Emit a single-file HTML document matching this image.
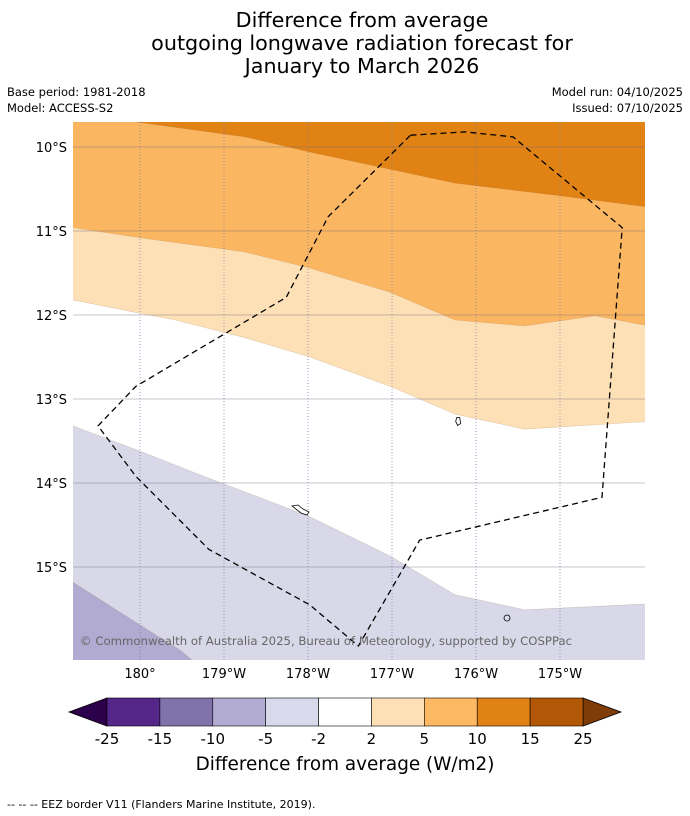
<!DOCTYPE html>
<html><head><meta charset="utf-8">
<style>
body{margin:0;background:#fff;font-family:"Liberation Sans","DejaVu Sans",sans-serif;}
#wrap{position:relative;width:690px;height:816px;overflow:hidden;}
svg text{font-family:"DejaVu Sans","Liberation Sans",sans-serif;}
</style></head>
<body>
<div id="wrap">
<svg id="svg" width="690" height="816" viewBox="0 0 690 816" xmlns="http://www.w3.org/2000/svg">
<text x="362" y="27" font-size="20.7" text-anchor="middle">Difference from average</text>
<text x="362" y="50" font-size="20.7" text-anchor="middle">outgoing longwave radiation forecast for</text>
<text x="362" y="73" font-size="20.7" text-anchor="middle">January to March 2026</text>
<text x="7" y="96" font-size="11.5">Base period: 1981-2018</text>
<text x="7" y="112" font-size="11.5">Model: ACCESS-S2</text>
<text x="683" y="96" font-size="11.5" text-anchor="end">Model run: 04/10/2025</text>
<text x="683" y="112" font-size="11.5" text-anchor="end">Issued: 07/10/2025</text>
<defs><clipPath id="clip"><rect x="73" y="122" width="572" height="538"/></clipPath></defs>
<g id="map" clip-path="url(#clip)"></g>
<g id="axes"></g>
<text x="326" y="645" font-size="11.7" fill="#666" text-anchor="middle">© Commonwealth of Australia 2025, Bureau of Meteorology, supported by COSPPac</text>
<g id="cbar"></g>
<text x="345" y="770" font-size="18.4" text-anchor="middle">Difference from average (W/m2)</text>
<text x="7" y="808" font-size="11">--  --  -- EEZ border V11 (Flanders Marine Institute, 2019).</text>
</svg>
</div>
<script>
// data: boundaries [lon (0-360 east), lat (deg south)]
const b15 = [[179.2,9.70],[179.94,9.70],[181.25,9.88],[182.02,10.06],[183.75,10.43],[185.0,10.58],[186.01,10.71]];
const b10 = [[179.2,10.96],[180,11.08],[181.25,11.25],[182.02,11.44],[182.98,11.73],[183.75,12.06],[184.58,12.13],[185.42,12.01],[186.01,12.12]];
const b5 = [[179.2,11.82],[180,11.98],[180.42,12.06],[181.25,12.27],[182.02,12.5],[182.98,12.85],[183.75,13.18],[184.58,13.36],[186.01,13.27]];
const bm2 = [[179.2,13.32],[180,13.62],[180.71,13.9],[182.02,14.4],[182.98,14.87],[183.75,15.33],[184.58,15.51],[186.01,15.44]];
const bm5 = [[179.2,15.18],[180,15.69],[180.48,15.99],[180.62,16.11],[180.7,16.3]];
const eezBorder = [[183.22,9.86],[183.87,9.82],[184.44,9.88],[185.74,10.96],[185.5,14.17],[183.33,14.68],[182.6,15.94],[182.02,15.45],[180.82,14.79],[179.95,13.92],[179.5,13.32],[179.95,12.85],[181.74,11.79],[182.24,10.83],[183.22,9.86]];
const lonTicks = [180,181,182,183,184,185];
const lonLabels = ["180°","179°W","178°W","177°W","176°W","175°W"];
const latTicks = [10,11,12,13,14,15];
const latLabels = ["10°S","11°S","12°S","13°S","14°S","15°S"];
const cbLevels = ["-25","-15","-10","-5","-2","2","5","10","15","25"];
const cbColors = ["#542788","#8073ac","#b2abd2","#d8daeb","#ffffff","#fee0b6","#fdb863","#e08214","#b35806"];

const NS="http://www.w3.org/2000/svg";
const X = lon => 140 + (lon-180)*84;
const Y = lat => 147 + (lat-10)*84;
function mk(tag, attrs, parent){const e=document.createElementNS(NS,tag);for(const k in attrs)e.setAttribute(k,attrs[k]);parent.appendChild(e);return e;}
const map=document.getElementById('map');
const base=mk('rect',{x:73,y:122,width:572,height:538,fill:'#e08214'},map);


function band(b,color,name){
  let d='M'+b.map(p=>X(p[0]).toFixed(1)+','+Y(p[1]).toFixed(1)).join(' L');
  d+=` L${X(b[b.length-1][0])+20},${Y(b[b.length-1][1])} L700,700 L40,700 L40,${Y(b[0][1])} Z`;
  const e=mk('path',{d:d,fill:color,stroke:'rgba(150,100,60,0.25)','stroke-width':0.6},map);
  
  
}
band(b15,'#fbb661','band-5-10');
band(b10,'#fde0b5','band-2-5');
band(b5,'#ffffff','band-neutral');
band(bm2,'#d8d8e9','band-minus-2-5');
band(bm5,'#b1aad1','band-minus-5-10');
lonTicks.forEach((t,i)=>{
  const l=mk('line',{x1:X(t),x2:X(t),y1:122,y2:660,stroke:'#7777aa','stroke-width':0.7,'stroke-dasharray':'1,2'},map);
  
  
});
latTicks.forEach((t,i)=>{
  const l=mk('line',{x1:73,x2:645,y1:Y(t),y2:Y(t),stroke:'rgba(110,100,130,0.5)','stroke-width':0.8},map);
  
  
});
const isl1=mk('path',{d:`M${X(183.77)},${Y(13.22)} l3,0 l1,6 l-3,2 l-2,-4 Z`,fill:'#fff',stroke:'#000','stroke-width':0.8},map);


const isl2=mk('path',{d:`M292,506 l6,-1 l5,4 l6,3 l-2,3 l-6,-2 Z`,fill:'#fff',stroke:'#000','stroke-width':0.8},map);


const isl3=mk('circle',{cx:507,cy:618,r:3,fill:'none',stroke:'#000','stroke-width':0.8},map);


const ez=mk('path',{d:'M'+eezBorder.map(p=>X(p[0]).toFixed(1)+','+Y(p[1]).toFixed(1)).join(' L'),fill:'none',stroke:'#000','stroke-width':1.3,'stroke-dasharray':'6,4'},map);


const ax=document.getElementById('axes');
lonTicks.forEach((t,i)=>{
  const tx=mk('text',{x:X(t),y:678,'font-size':13,'text-anchor':'middle'},ax);tx.textContent=lonLabels[i];
  
  
});
latTicks.forEach((t,i)=>{
  const tx=mk('text',{x:67,y:Y(t)+5,'font-size':13,'text-anchor':'end'},ax);tx.textContent=latLabels[i];
  
  
});
const cb=document.getElementById('cbar');
const cx0=107,cx1=583,cy0=698,cy1=726,w=(cx1-cx0)/cbColors.length;
const tl=mk('path',{d:`M${cx0},${cy0} L69,712 L${cx0},${cy1} Z`,fill:'#2d004b',stroke:'#000','stroke-width':0.8},cb);


const tr=mk('path',{d:`M${cx1},${cy0} L621,712 L${cx1},${cy1} Z`,fill:'#7f3b08',stroke:'#000','stroke-width':0.8},cb);


cbColors.forEach((c,i)=>{
  const r=mk('rect',{x:cx0+i*w,y:cy0,width:w,height:cy1-cy0,fill:c,stroke:'#000','stroke-width':0.6},cb);
  
  
});
cbLevels.forEach((s,i)=>{
  const tx=mk('text',{x:cx0+i*w,y:744,'font-size':15,'text-anchor':'middle'},cb);tx.textContent=s;
  
  
});
</script>
</body></html>
